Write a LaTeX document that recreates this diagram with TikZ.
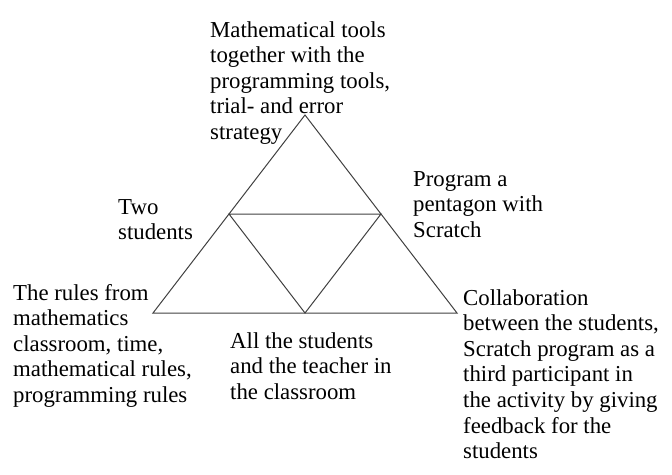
\documentclass[tikz,border=0pt]{standalone}
\usepackage{fontspec}
\setmainfont{Liberation Serif}
\begin{document}
\begin{tikzpicture}[x=1pt,y=-1pt,
  lbl/.style={anchor=base west, align=left, inner sep=0pt, font=\fontsize{22.8}{25.6}\selectfont},
  edge/.style={line width=1pt, draw=black!75, line join=miter}]
\useasboundingbox (0,0) rectangle (672,474);
\coordinate (A) at (305,115);
\coordinate (B) at (153,313);
\coordinate (C) at (457,313);
\coordinate (D) at (229,214);
\coordinate (E) at (381,214);
\coordinate (F) at (305,313);
\draw[edge] (A) -- (B) -- (C) -- cycle;
\draw[edge] (D) -- (E) -- (F) -- cycle;
% anchors at the baseline of the last line
\node[lbl] (top) at (210,139.4) {Mathematical tools\\together with the\\programming tools,\\trial- and error\\strategy};
\node[lbl] (two) at (118,239.6) {Two\\students};
\node[lbl] (rules) at (13,402.4) {The rules from\\mathematics\\classroom, time,\\mathematical rules,\\programming rules};
\node[lbl] (all) at (230,399.2) {All the students\\and the teacher in\\the classroom};
\node[lbl] (prog) at (413,237.2) {Program a\\pentagon with\\Scratch};
\node[lbl] (collab) at (463,458.6) {Collaboration\\between the students,\\Scratch program as a\\third participant in\\the activity by giving\\feedback for the\\students};
\end{tikzpicture}
\end{document}
